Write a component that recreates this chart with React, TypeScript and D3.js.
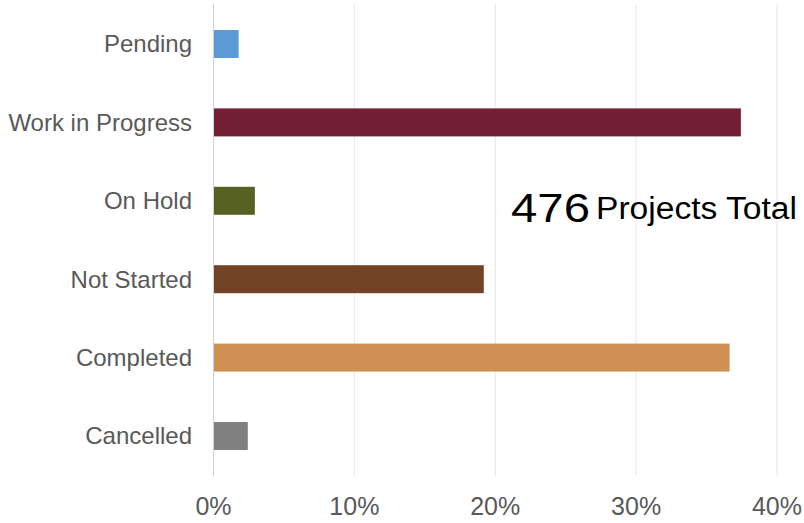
import React from "react";
import * as d3 from "d3";

const categories = ["Pending", "Work in Progress", "On Hold", "Not Started", "Completed", "Cancelled"];
const values = [0.0175, 0.374, 0.029, 0.1915, 0.366, 0.024];
const colors = ["#5B9BD5", "#741E36", "#576121", "#724326", "#CE9053", "#808080"];
const tickValues = [0, 0.1, 0.2, 0.3, 0.4];
const totalCount = "476";
const totalLabel = "Projects Total";

const W = 804;
const H = 523;

export default function App() {
  const x = d3.scaleLinear().domain([0, 0.4]).range([213.5, 777]);
  const y = d3.scaleBand<string>().domain(categories).range([4.8, 475.2]).paddingInner(0.643).paddingOuter(0.3215);
  const fmt = d3.format(".0%");
  const font = "'Liberation Sans', Arial, sans-serif";
  return (
    <svg width={W} height={H} style={{ position: "absolute", left: 0, top: 0, background: "#fff" }} fontFamily={font}>
      {tickValues.map((t) => (
        <line key={"g" + t} x1={x(t)} x2={x(t)} y1={4} y2={476} stroke={t === 0 ? "#d0d0d0" : "#e6e6e6"} strokeWidth={1} />
      ))}
      {categories.map((c, i) => (
        <rect key={c} x={x(0) + 0.5} y={y(c)} width={x(values[i]) - x(0)} height={y.bandwidth()} fill={colors[i]} />
      ))}
      {categories.map((c) => (
        <text key={"l" + c} x={192} y={(y(c) as number) + y.bandwidth() / 2} dy="0.35em" textAnchor="end" fontSize={24} fill="#595959">
          {c}
        </text>
      ))}
      {tickValues.map((t) => (
        <text key={"t" + t} x={x(t)} y={515} textAnchor="middle" fontSize={25} fill="#595959">
          {fmt(t)}
        </text>
      ))}
      <text x={511} y={221.5} fontSize={41} fill="#000" textLength={79} lengthAdjust="spacingAndGlyphs">{totalCount}</text>
      <text x={596} y={218.5} fontSize={31} fill="#000" textLength={201} lengthAdjust="spacingAndGlyphs">{totalLabel}</text>
    </svg>
  );
}
